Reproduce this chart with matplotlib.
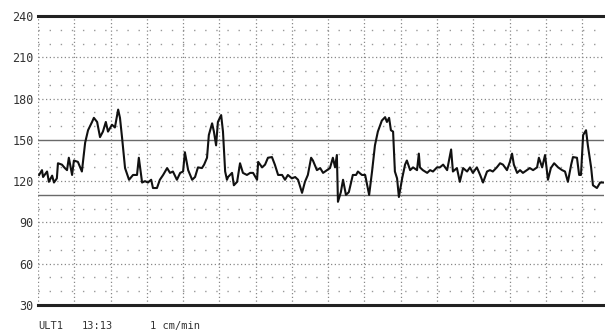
import matplotlib
matplotlib.use("Agg")
import matplotlib.pyplot as plt
import numpy as np

# time in minutes (1 cm/min paper) and fetal heart rate in bpm
time_min = [0.03, 0.11, 0.14, 0.25, 0.30, 0.39, 0.44, 0.52, 0.55, 0.66, 0.74, 0.80, 0.85, 0.94, 0.99,
            1.10, 1.21, 1.30, 1.38, 1.49, 1.54, 1.63, 1.71, 1.79, 1.87, 1.93, 2.04, 2.12, 2.21, 2.26,
            2.32, 2.40, 2.51, 2.62, 2.73, 2.78, 2.87, 2.95, 3.03, 3.12, 3.17, 3.28, 3.36, 3.45, 3.56,
            3.64, 3.72, 3.83, 3.92, 4.00, 4.05, 4.14, 4.25, 4.33, 4.41, 4.52, 4.58, 4.66, 4.71, 4.80,
            4.85, 4.91, 4.96, 5.05, 5.10, 5.16, 5.21, 5.24, 5.35, 5.40, 5.49, 5.57, 5.65, 5.76, 5.85,
            5.93, 6.04, 6.07, 6.18, 6.26, 6.34, 6.45, 6.53, 6.62, 6.73, 6.81, 6.89, 7.00, 7.09, 7.17,
            7.28, 7.36, 7.44, 7.53, 7.58, 7.69, 7.78, 7.86, 7.97, 8.05, 8.13, 8.19, 8.24, 8.27, 8.35,
            8.41, 8.49, 8.57, 8.68, 8.77, 8.82, 8.93, 9.02, 9.13, 9.21, 9.29, 9.37, 9.48, 9.57, 9.62,
            9.68, 9.73, 9.79, 9.84, 9.90, 9.95, 10.04, 10.12, 10.17, 10.26, 10.34, 10.45, 10.50, 10.53,
            10.61, 10.73, 10.81, 10.89, 11.00, 11.08, 11.17, 11.28, 11.39, 11.44, 11.55, 11.63, 11.72,
            11.83, 11.91, 11.99, 12.10, 12.19, 12.27, 12.38, 12.46, 12.54, 12.65, 12.74, 12.82, 12.93,
            13.01, 13.07, 13.12, 13.21, 13.29, 13.37, 13.48, 13.56, 13.65, 13.76, 13.81, 13.90, 13.98,
            14.06, 14.14, 14.23, 14.34, 14.45, 14.53, 14.61, 14.70, 14.75, 14.86, 14.92, 14.97, 15.03,
            15.11, 15.16, 15.25, 15.30, 15.41, 15.50, 15.61]
fhr_bpm = [124.5, 128, 123, 127, 119.5, 124, 119, 122, 133, 132, 129.5, 128, 137, 124.5, 135,
           134, 127, 148, 157, 163, 166, 163, 152, 156, 163, 156, 161, 159, 172, 166,
           151, 129.5, 121, 124.5, 124.5, 137, 119, 120, 119, 121, 115, 115, 121, 124.5, 129.5,
           126, 127, 121, 126, 127, 141, 128, 121, 123, 130, 129.5, 132, 137, 153.5, 162,
           156, 146, 163, 168, 156, 127, 121, 123, 126, 117, 119.5, 133, 126, 124.5, 126,
           126, 121, 134, 130, 132, 137, 137.5, 132, 124.5, 124.5, 121, 124.5, 122, 123, 121,
           111.5, 119.5, 124.5, 137, 135, 128, 129.5, 126, 128, 129.5, 137, 130, 139, 105, 112,
           121, 110, 112, 124.5, 124.5, 127, 124.5, 124.5, 110, 127, 146, 156, 164, 166.5, 163,
           166, 157, 156, 127, 122, 108.5, 122, 132, 135, 128, 130, 128, 140, 130,
           128, 126, 128, 127, 130, 130, 132, 128, 143, 127, 129.5, 119.5, 129.5,
           127, 130, 126, 130, 124.5, 119, 127, 128, 127, 130, 133, 132, 128,
           134, 140, 132, 126, 128, 126, 128, 129.5, 128, 130, 137, 130, 139,
           121, 129.5, 133, 130, 128, 127, 119.5, 132, 137.5, 137, 124.5, 124.5, 153.5,
           157, 146, 130, 117, 115, 119, 119]

ytick_labels = ["30", "60", "90", "120", "150", "180", "210", "240"]
bottom_texts = ["ULT1", "13:13", "1 cm/min"]

W, H = 605, 334
fig = plt.figure(figsize=(W / 100, H / 100), dpi=100)
ax = fig.add_axes([38 / W, 1 - 305 / H, (604 - 38) / W, (305 - 16) / H])
xmax = (604 - 38) / 36.27
ax.set_xlim(0, xmax)
ax.set_ylim(30, 240)

mono = "DejaVu Sans Mono"

# horizontal grid
for v in range(40, 240, 10):
    if v in (150, 110):
        ax.axhline(v, color="#6a6a6a", lw=1.0, zorder=1)
    elif v % 30 == 0:
        ax.axhline(v, color="#888888", lw=0.9, ls=(0, (1, 2)), zorder=1)
    else:
        ax.axhline(v, color="#999999", lw=1.0, ls=(0, (1, 7)), zorder=1)
# vertical grid (1 per minute)
for m in range(0, int(xmax) + 1):
    ax.axvline(m, color="#888888", lw=0.9, ls=(0, (1, 2)), zorder=1)

ax.axhline(240, color="#222222", lw=2.2, zorder=2, clip_on=False)
ax.axhline(30, color="#222222", lw=2.2, zorder=2, clip_on=False)

ax.plot(time_min, fhr_bpm, color="#111111", lw=1.5, zorder=3)

for s in ax.spines.values():
    s.set_visible(False)
ax.set_xticks([])
ax.set_yticks([int(t) for t in ytick_labels])
ax.set_yticklabels(ytick_labels, family=mono, fontsize=8.5, color="#333333")
ax.tick_params(axis="y", length=0, pad=3)

fig.text(38 / W, 1 - 326 / H, bottom_texts[0], family=mono, fontsize=7.5, color="#333333", va="center")
fig.text(82 / W, 1 - 326 / H, bottom_texts[1], family=mono, fontsize=7.5, color="#333333", va="center")
fig.text(150 / W, 1 - 326 / H, bottom_texts[2], family=mono, fontsize=7.5, color="#333333", va="center")

fig.savefig("out.png", dpi=100, facecolor="white")
